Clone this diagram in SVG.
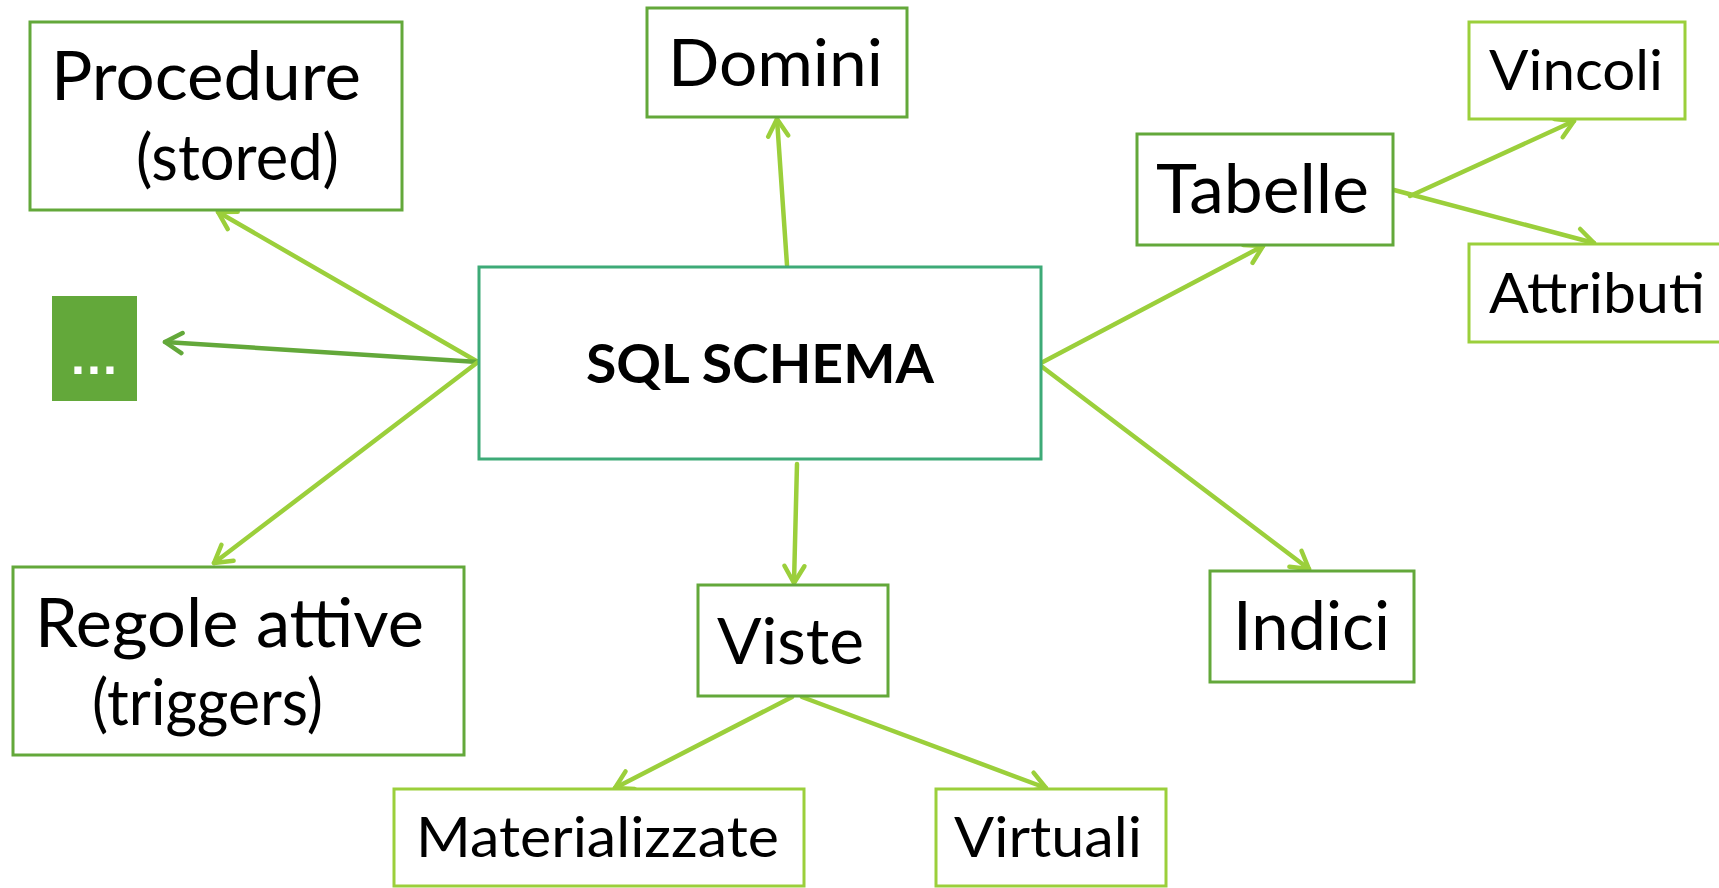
<svg xmlns="http://www.w3.org/2000/svg" width="1719" height="888" viewBox="0 0 1719 888">
<defs>
<style>
.box{fill:#ffffff;stroke-width:3}
.dk{stroke:#63a83a}
.lt{stroke:#9bcf3b}
.sq{stroke:#3daa77}
.t{font-family:Lato,"Liberation Sans",sans-serif;fill:#000000}
.c{fill:none;stroke-width:4.5;stroke-linecap:round}
.cl{stroke:#9bcf3b}
.cd{stroke:#63a83a}
</style>
<marker id="al" viewBox="-22 -13 26 26" refX="0" refY="0" markerWidth="26" markerHeight="26" markerUnits="userSpaceOnUse" orient="auto">
<path d="M-17,-10 L0,0 L-17,10" fill="none" stroke="#9bcf3b" stroke-width="4.5" stroke-linecap="round" stroke-linejoin="round"/>
</marker>
<marker id="ad" viewBox="-22 -13 26 26" refX="0" refY="0" markerWidth="26" markerHeight="26" markerUnits="userSpaceOnUse" orient="auto">
<path d="M-17,-10 L0,0 L-17,10" fill="none" stroke="#63a83a" stroke-width="4.5" stroke-linecap="round" stroke-linejoin="round"/>
</marker>
</defs>
<rect width="1719" height="888" fill="#ffffff"/>
<g id="connectors">
<line class="c cl" x1="478" y1="362" x2="218" y2="212" marker-end="url(#al)"/>
<line class="c cd" x1="478" y1="362" x2="165" y2="342" marker-end="url(#ad)"/>
<line class="c cl" x1="478" y1="362" x2="214" y2="563" marker-end="url(#al)"/>
<line class="c cl" x1="787" y1="265" x2="777" y2="119" marker-end="url(#al)"/>
<line class="c cl" x1="1041" y1="363" x2="1263" y2="246" marker-end="url(#al)"/>
<line class="c cl" x1="1041" y1="366" x2="1309" y2="569" marker-end="url(#al)"/>
<line class="c cl" x1="797" y1="464" x2="794" y2="583" marker-end="url(#al)"/>
<line class="c cl" x1="792" y1="697" x2="615" y2="788" marker-end="url(#al)"/>
<line class="c cl" x1="802" y1="697" x2="1046" y2="788" marker-end="url(#al)"/>
<line class="c cl" x1="1410" y1="196" x2="1574" y2="121" marker-end="url(#al)"/>
<line class="c cl" x1="1394" y1="190" x2="1594" y2="243" marker-end="url(#al)"/>
</g>
<g id="node-sql">
<rect class="box sq" x="479" y="267" width="562" height="192"/>
<text class="t" x="586" y="383" font-size="54" font-weight="bold" textLength="348" lengthAdjust="spacingAndGlyphs">SQL SCHEMA</text>
</g>
<g id="node-procedure">
<rect class="box dk" x="30" y="22" width="372" height="188"/>
<text class="t" x="51" y="100" font-size="67" textLength="310" lengthAdjust="spacingAndGlyphs">Procedure</text>
<text class="t" x="136" y="180" font-size="64" textLength="203" lengthAdjust="spacingAndGlyphs">(stored)</text>
</g>
<g id="node-etc">
<rect x="52" y="296" width="85" height="105" fill="#63a83a"/>
<text x="71" y="374" font-family="'Liberation Sans',sans-serif" font-weight="bold" font-size="50" fill="#ffffff" textLength="46" lengthAdjust="spacing">...</text>
</g>
<g id="node-regole">
<rect class="box dk" x="13" y="567" width="451" height="188"/>
<text class="t" x="35" y="647" font-size="67" textLength="389" lengthAdjust="spacingAndGlyphs">Regole attive</text>
<text class="t" x="92" y="725" font-size="63" textLength="231" lengthAdjust="spacingAndGlyphs">(triggers)</text>
</g>
<g id="node-domini">
<rect class="box dk" x="647" y="8" width="260" height="109"/>
<text class="t" x="668" y="86" font-size="66" textLength="215" lengthAdjust="spacingAndGlyphs">Domini</text>
</g>
<g id="node-tabelle">
<rect class="box dk" x="1137" y="134" width="256" height="111"/>
<text class="t" x="1156" y="213" font-size="68" textLength="213" lengthAdjust="spacingAndGlyphs">Tabelle</text>
</g>
<g id="node-vincoli">
<rect class="box lt" x="1469" y="22" width="216" height="97"/>
<text class="t" x="1489" y="90" font-size="57" textLength="174" lengthAdjust="spacingAndGlyphs">Vincoli</text>
</g>
<g id="node-attributi">
<rect class="box lt" x="1469" y="244" width="270" height="98"/>
<text class="t" x="1489" y="313" font-size="57" textLength="216" lengthAdjust="spacingAndGlyphs">Attributi</text>
</g>
<g id="node-indici">
<rect class="box dk" x="1210" y="571" width="204" height="111"/>
<text class="t" x="1233" y="650" font-size="67" textLength="157" lengthAdjust="spacingAndGlyphs">Indici</text>
</g>
<g id="node-viste">
<rect class="box dk" x="698" y="585" width="190" height="111"/>
<text class="t" x="717" y="664" font-size="64" textLength="147" lengthAdjust="spacingAndGlyphs">Viste</text>
</g>
<g id="node-materializzate">
<rect class="box lt" x="394" y="789" width="410" height="97"/>
<text class="t" x="416" y="857" font-size="56" textLength="363" lengthAdjust="spacingAndGlyphs">Materializzate</text>
</g>
<g id="node-virtuali">
<rect class="box lt" x="936" y="789" width="230" height="97"/>
<text class="t" x="954" y="857" font-size="56" textLength="188" lengthAdjust="spacingAndGlyphs">Virtuali</text>
</g>
</svg>
